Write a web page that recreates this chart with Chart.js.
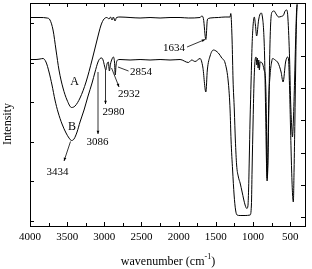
<!DOCTYPE html>
<html><head><meta charset="utf-8">
<script src="https://cdn.jsdelivr.net/npm/chart.js@4/dist/chart.umd.min.js"></script>
<style>html,body{margin:0;padding:0;background:#fff;}#wrap{width:312px;height:269px;position:relative;}</style>
</head><body><div id="wrap"><canvas id="c"></canvas></div>
<script>
// ---- data (wavenumber in cm-1, intensity in arbitrary units) ----
const wavenumberA = [4000,3865,3771,3731,3690,3650,3610,3556,3502,3441,3394,3327,3246,3165,3098,3044,3004,2964,2937,2917,2896,2879,2856,2836,2789,2654,2519,2385,2250,2116,1981,1869,1712,1689,1667,1634,1614,1600,1577,1466,1375,1308,1299,1295,1281,1268,1251,1237,1220,1196,1173,1146,1126,1106,1083,1068,1059,1050,1039,1025,1012,998,982,967,951,924,904,887,871,857,844,830,819,810,799,787,776,763,743,716,689,655,622,588,568,545,530,507,494,480,469,456,440,426,413,406];
const intensityA  = [208.5,208.5,208,206,196,176,156,138,126,118.5,120,128,144,166,186,201,207,208.5,207,209,206,209,205,208.5,209,208.5,208,208.5,208,208.5,208.5,208,208.5,210,207.5,186.5,206,207.5,208,208.5,209,209,212.5,211,186,146,116,86,61,49,43,34,27,21,17.5,20,36,66,106,146,181,201,209,201,190,206,212,213,208,196,171,116,66,48,61,116,166,201,214,215,212,209,209.5,211,215,216,208,166,126,101,89,106,146,186,216,222];
const wavenumberB = [4000,3919,3865,3825,3785,3744,3704,3664,3623,3569,3515,3475,3441,3408,3367,3327,3273,3219,3165,3125,3085,3058,3035,3017,2997,2980,2964,2946,2932,2917,2896,2879,2863,2853,2842,2822,2789,2654,2519,2385,2250,2116,1981,1869,1824,1779,1712,1675,1634,1614,1577,1533,1466,1420,1375,1331,1308,1295,1274,1254,1234,1214,1173,1106,1039,1021,1012,998,985,971,958,949,941,931,922,914,904,877,850,830,819,810,799,787,770,749,736,702,662,622,595,561,534,521,507,494,480,467,457,447,436,426,416,406];
const intensityB  = [166.5,166.5,167,167.5,164,154,141,126,114,102,93,88,85.5,87,94,104,116,130,143,154,164,167.5,168,166,160,156,162,164,155,162,167,169,164,151,161,166,166.5,166,166.5,166,166.5,166,166.5,163.5,166,164.5,167.5,159,134,156,170,176,173,168,163,143,116,86,56,31,16,11,10.5,10.5,11,21,56,106,146,166,169,161,168,158,166,156,164,163,156,144,106,45,76,126,151,164,167.5,166,163,154,144,164,169,166,136,96,56,31,24,56,106,156,201,221];
const xTickLabels = [4000,3500,3000,2500,2000,1500,1000,500];
const curveNames = ['A','B'];
const peakLabels = ['3434','3086','2980','2932','2854','1634'];
const xTitle = 'wavenumber (cm';
const xTitleSup = '-1';
const yTitle = 'Intensity';

// annotation placement (label position, arrow start, arrow end, head at end?) in data units
const annotationPlacement = [
  {lab:[3630,54],  from:[3455,84.5], to:[3542,65], head:true},
  {lab:[3091,84],  from:[3085,154], to:[3085,92], head:true},
  {lab:[2876,113.5], from:[2984,156], to:[2984,122], head:true},
  {lab:[2667,132], from:[2903,158], to:[2802,139], head:true},
  {lab:[2506,154], from:[2674,155], to:[2816,159], head:false},
  {lab:[2062,178], from:[1887,179], to:[1645,186.5], head:true}
];
const namePlacement = [[3401,144],[3435,99]];
const leftTickValues = [5,44.6,84.2,123.8,163.4,203];
const rightTickValues = [8.7,41,73.3,105.7,138,170.3,202.7];

const FONT = "'Liberation Serif','Times New Roman',serif";

const framePlugin = {
  id:'frame',
  afterDraw(chart){
    const ctx = chart.ctx, xs = chart.scales.x, ys = chart.scales.y, ys2 = chart.scales.y2;
    const a = chart.chartArea;
    ctx.save();
    ctx.strokeStyle = '#000'; ctx.lineWidth = 1;
    ctx.beginPath();
    xs.ticks.forEach(t=>{
      const px = Math.round(xs.getPixelForValue(t.value))+0.5;
      const len = (t.value%500===0)?4:3;
      ctx.moveTo(px,a.bottom); ctx.lineTo(px,a.bottom-len);
      ctx.moveTo(px,a.top); ctx.lineTo(px,a.top+len);
    });
    ys.ticks.forEach(t=>{
      const py = Math.round(ys.getPixelForValue(t.value))+0.5;
      ctx.moveTo(a.left,py); ctx.lineTo(a.left+4,py);
    });
    ys2.ticks.forEach(t=>{
      const py = Math.round(ys2.getPixelForValue(t.value))+0.5;
      ctx.moveTo(a.right,py); ctx.lineTo(a.right-4,py);
    });
    ctx.stroke();
    // annotations
    ctx.fillStyle = '#000';
    ctx.font = '11px '+FONT;
    ctx.textAlign='center'; ctx.textBaseline='middle';
    annotationPlacement.forEach((p,i)=>{
      const lx = xs.getPixelForValue(p.lab[0]), ly = ys.getPixelForValue(p.lab[1]);
      ctx.fillText(peakLabels[i], lx, ly);
      const x1 = xs.getPixelForValue(p.from[0]), y1 = ys.getPixelForValue(p.from[1]);
      const x2 = xs.getPixelForValue(p.to[0]), y2 = ys.getPixelForValue(p.to[1]);
      ctx.beginPath(); ctx.lineWidth=0.8; ctx.moveTo(x1,y1); ctx.lineTo(x2,y2); ctx.stroke();
      if(p.head){
        const ang = Math.atan2(y2-y1,x2-x1), h=3.5;
        ctx.beginPath();
        ctx.moveTo(x2,y2);
        ctx.lineTo(x2-h*Math.cos(ang-0.4), y2-h*Math.sin(ang-0.4));
        ctx.lineTo(x2-h*Math.cos(ang+0.4), y2-h*Math.sin(ang+0.4));
        ctx.closePath(); ctx.fill();
      }
    });
    ctx.font = '12px '+FONT;
    namePlacement.forEach((p,i)=>{
      ctx.fillText(curveNames[i], xs.getPixelForValue(p[0]), ys.getPixelForValue(p[1]));
    });
    // axis titles
    ctx.font = '12px '+FONT;
    const w1 = ctx.measureText(xTitle).width;
    ctx.font = '8px '+FONT; const w2 = ctx.measureText(xTitleSup).width;
    ctx.font = '12px '+FONT; const w3 = ctx.measureText(')').width;
    const tot = w1+w2+w3; let sx = 168 - tot/2; const sy = 262;
    ctx.textAlign='left';
    ctx.fillText(xTitle, sx, sy);
    ctx.font = '8px '+FONT; ctx.fillText(xTitleSup, sx+w1, sy-5);
    ctx.font = '12px '+FONT; ctx.fillText(')', sx+w1+w2, sy);
    ctx.save();
    ctx.translate(8,124); ctx.rotate(-Math.PI/2);
    ctx.textAlign='center';
    ctx.fillText(yTitle,0,0);
    ctx.restore();
    ctx.restore();
  }
};

const mk = (w,v)=>w.map((x,i)=>({x:x,y:v[i]}));
new Chart(document.getElementById('c'),{
  type:'line',
  data:{datasets:[
    {label:curveNames[0],data:mk(wavenumberA,intensityA),borderColor:'#000',borderWidth:1,pointRadius:0,fill:false,cubicInterpolationMode:'monotone'},
    {label:curveNames[1],data:mk(wavenumberB,intensityB),borderColor:'#000',borderWidth:1,pointRadius:0,fill:false,cubicInterpolationMode:'monotone'}
  ]},
  options:{
    responsive:true, maintainAspectRatio:false, animation:false, devicePixelRatio:1,
    layout:{padding:0},
    plugins:{legend:{display:false},tooltip:{enabled:false}},
    scales:{
      x:{type:'linear',position:'bottom',reverse:true,min:300,max:4000,
        afterBuildTicks:s=>{s.ticks=[];for(let v=500;v<=4000;v+=250)s.ticks.push({value:v});},
        ticks:{autoSkip:false,maxRotation:0,padding:5,color:'#000',font:{family:FONT,size:11},
          callback:v=>xTickLabels.includes(v)?String(v):''},
        grid:{display:false,drawTicks:false},border:{display:true,color:'#000',width:1},
        afterFit:s=>{s.height=43;}},
      x2:{type:'linear',position:'top',reverse:true,min:300,max:4000,
        ticks:{display:false},grid:{display:false,drawTicks:false},border:{display:true,color:'#000',width:1},
        afterFit:s=>{s.height=3;}},
      y:{type:'linear',position:'left',min:0,max:223,
        afterBuildTicks:s=>{s.ticks=leftTickValues.map(v=>({value:v}));},
        ticks:{display:false},grid:{display:false,drawTicks:false},border:{display:true,color:'#000',width:1},
        afterFit:s=>{s.width=30;}},
      y2:{type:'linear',position:'right',min:0,max:223,
        afterBuildTicks:s=>{s.ticks=rightTickValues.map(v=>({value:v}));},
        ticks:{display:false},grid:{display:false,drawTicks:false},border:{display:true,color:'#000',width:1},
        afterFit:s=>{s.width=7;}}
    }
  },
  plugins:[framePlugin]
});
</script></body></html>
